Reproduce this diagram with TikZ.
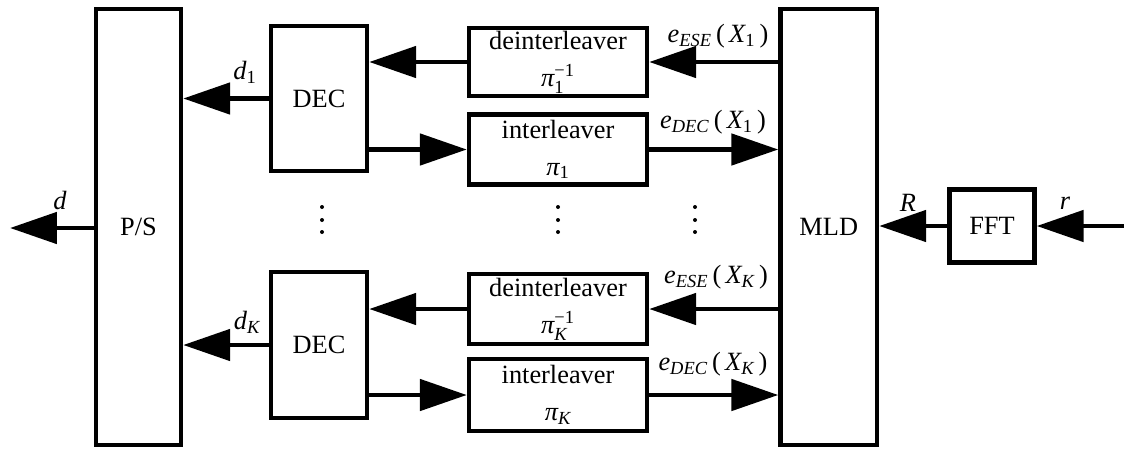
\documentclass[tikz,border=0pt]{standalone}
\usepackage{amsmath}
\usepackage{fontspec}
\setmainfont{Liberation Serif}
\usetikzlibrary{arrows.meta}
\newcommand{\mv}[1]{\text{\itshape #1}}
\newcommand{\mr}[1]{\text{#1}}
\begin{document}
\begin{tikzpicture}[x=0.02cm,y=-0.02cm]
\useasboundingbox (0,0) rectangle (1124,450);
\tikzstyle{blk}=[draw,line width=2.5pt,inner sep=0pt,align=center,font=\fontsize{15}{21}\selectfont];
\tikzstyle{lbl}=[inner sep=0pt,font=\fontsize{15}{17}\selectfont];
\tikzstyle{arr}=[line width=2.8pt,-{Triangle[length=0.94cm,width=0.62cm]}];
% blocks
\node[blk,minimum width=1.7cm,minimum height=8.73cm] (ps) at (138.5,227) {P/S};
\node[blk,minimum width=1.92cm,minimum height=2.9cm] (dec1) at (319,98.5) {DEC};
\node[blk,minimum width=1.92cm,minimum height=2.92cm] (deck) at (319,345) {DEC};
\node[blk,minimum width=3.56cm,minimum height=1.37cm] (dil1) at (558,62) {deinterleaver\\$\mv{π}_{\mr{1}}^{\mr{−1}}$};
\node[blk,minimum width=3.56cm,minimum height=1.4cm] (il1) at (558,149.5) {interleaver\\$\mv{π}_{\mr{1}}$};
\node[blk,minimum width=3.56cm,minimum height=1.4cm] (dilk) at (558,309) {deinterleaver\\$\mv{π}_{\mv{K}}^{\mr{−1}}$};
\node[blk,minimum width=3.56cm,minimum height=1.43cm] (ilk) at (558,395) {interleaver\\$\mv{π}_{\mv{K}}$};
\node[blk,minimum width=1.93cm,minimum height=8.73cm] (mld) at (828.75,227) {MLD};
\node[blk,minimum width=1.7cm,minimum height=1.46cm] (fft) at (992,226) {FFT};
\coordinate (dout) at (10,228);
\coordinate (rin) at (1124,226);
% connectors
\draw[arr] (ps.west |- dout) -- (dout);
\draw[arr] (dec1) -- (ps.east |- dec1);
\draw[arr] (deck) -- (ps.east |- deck);
\draw[arr] (dil1) -- (dec1.east |- dil1);
\draw[arr] (dec1.east |- il1) -- (il1);
\draw[arr] (dilk) -- (deck.east |- dilk);
\draw[arr] (deck.east |- ilk) -- (ilk);
\draw[arr] (mld.west |- dil1) -- (dil1);
\draw[arr] (il1) -- (mld.west |- il1);
\draw[arr] (mld.west |- dilk) -- (dilk);
\draw[arr] (ilk) -- (mld.west |- ilk);
\draw[arr] (fft) -- (mld.east |- fft);
\draw[arr] (rin) -- (fft);
% labels
\node[lbl] (ld) at (60,200) {\itshape d};
\node[lbl] (ld1) at (245,72) {$\mv{d}_{\mr{1}}$};
\node[lbl] (ldk) at (247,322) {$\mv{d}_{\mv{K}}$};
\node[lbl] (le1) at (718,36) {$\mv{e}_{\mv{ESE}}\,\mr{(}\,\mv{X}_{\mr{1}}\,\mr{)}$};
\node[lbl] (lf1) at (713,122) {$\mv{e}_{\mv{DEC}}\,\mr{(}\,\mv{X}_{\mr{1}}\,\mr{)}$};
\node[lbl] (lek) at (716,277) {$\mv{e}_{\mv{ESE}}\,\mr{(}\,\mv{X}_{\mv{K}}\,\mr{)}$};
\node[lbl] (lfk) at (713,364) {$\mv{e}_{\mv{DEC}}\,\mr{(}\,\mv{X}_{\mv{K}}\,\mr{)}$};
\node[lbl] (lR) at (908,203) {\itshape R};
\node[lbl] (lr) at (1065,203) {\itshape r};
% dots
\foreach \x in {322,558,695}
  \foreach \y in {207,220,232}
    \fill (\x,\y) circle (0.04cm);
\end{tikzpicture}
\end{document}
